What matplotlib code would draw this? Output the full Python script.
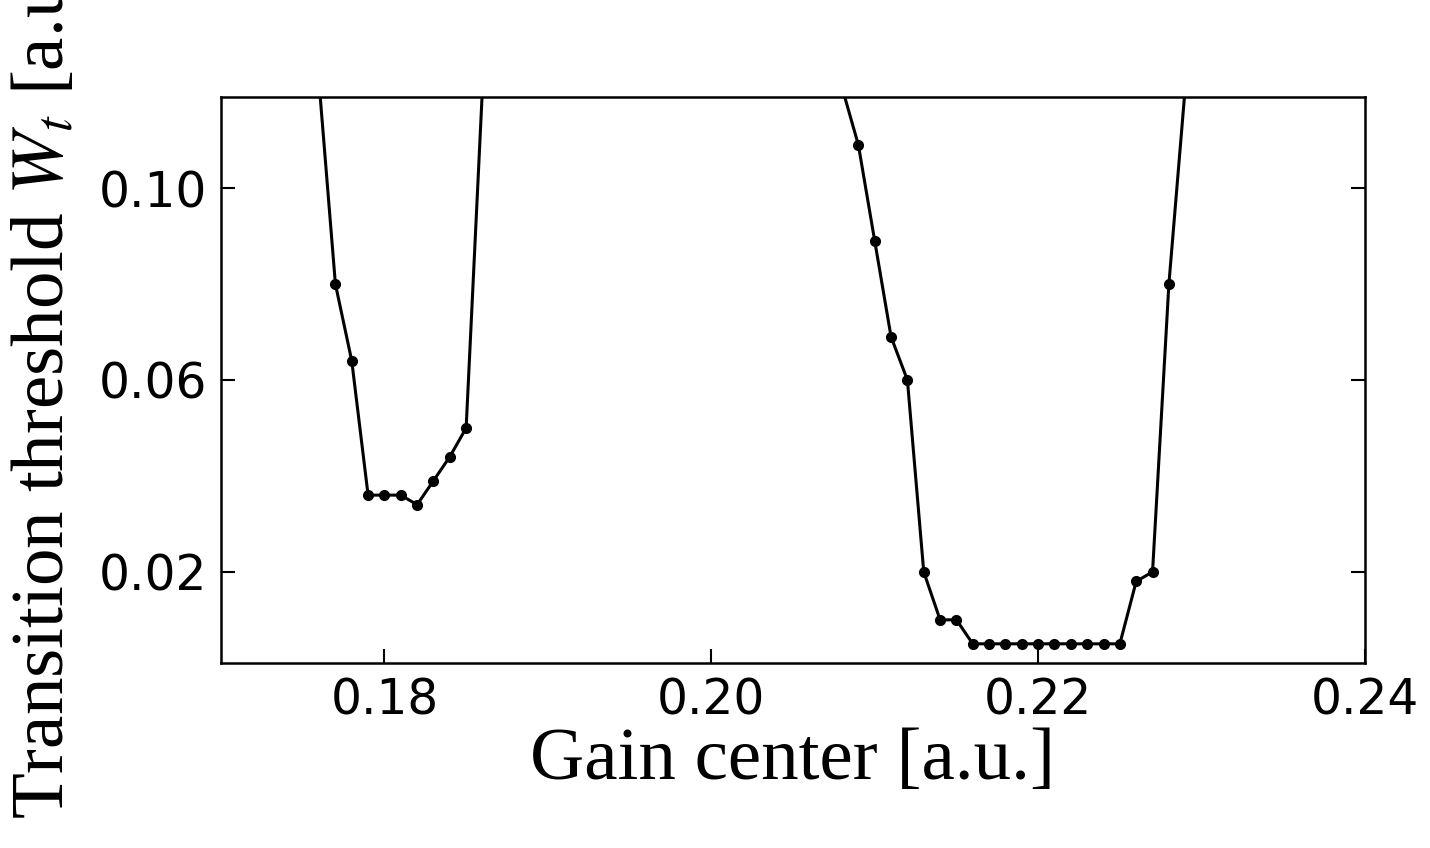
import numpy as np
import matplotlib
matplotlib.use("Agg")
import matplotlib.pyplot as plt
plt.rcParams['mathtext.fontset'] = 'stix'

gain_center = [0.176, 0.177, 0.178, 0.179, 0.180, 0.181, 0.182, 0.183, 0.184, 0.185, 0.186,
               np.nan,
               0.208, 0.209, 0.210, 0.211, 0.212, 0.213, 0.214, 0.215, 0.216, 0.217, 0.218,
               0.219, 0.220, 0.221, 0.222, 0.223, 0.224, 0.225, 0.226, 0.227, 0.228, 0.229]
threshold = [0.122, 0.080, 0.064, 0.036, 0.036, 0.036, 0.034, 0.039, 0.044, 0.050, 0.121,
             np.nan,
             0.121, 0.109, 0.089, 0.069, 0.060, 0.020, 0.010, 0.010, 0.005, 0.005, 0.005,
             0.005, 0.005, 0.005, 0.005, 0.005, 0.005, 0.005, 0.018, 0.020, 0.080, 0.121]
xticks = [0.18, 0.20, 0.22, 0.24]
yticks = [0.02, 0.06, 0.10]

fig = plt.figure(figsize=(14.3, 8.48), dpi=100)
ax = fig.add_axes([221/1430, 1-663/848, (1365-221)/1430, (663-97)/848])
ax.plot(gain_center, threshold, color='black', lw=2.2, marker='o', ms=7)
ax.set_xlim(0.17, 0.24)
ax.set_ylim(0.001, 0.119)
ax.set_xticks(xticks)
ax.set_xticklabels([f"{v:.2f}" for v in xticks])
ax.set_yticks(yticks)
ax.set_yticklabels([f"{v:.2f}" for v in yticks])
ax.tick_params(direction='in', labelsize=35, length=10, width=1.5, right=True, pad=10)
for s in ax.spines.values():
    s.set_linewidth(1.8)
ax.set_xlabel("Gain center [a.u.]", family='Liberation Serif', fontsize=54, labelpad=2)
ax.set_ylabel("Transition threshold $W_t$ [a.u.]", family='Liberation Serif', fontsize=54, labelpad=14)
fig.savefig("out.png", dpi=100)
